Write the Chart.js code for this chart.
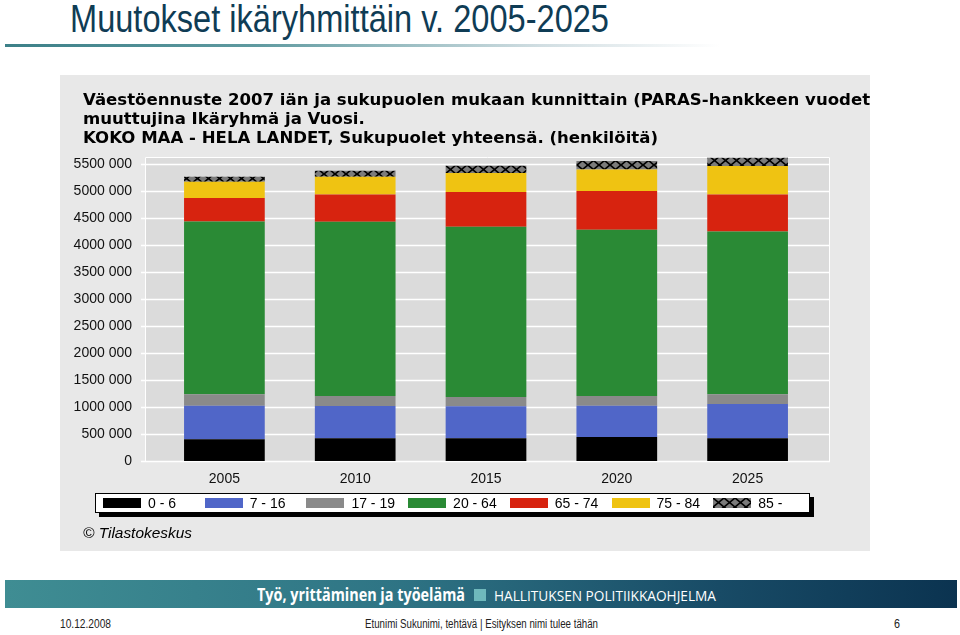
<!DOCTYPE html>
<html><head><meta charset="utf-8">
<script src="https://cdn.jsdelivr.net/npm/chart.js@4.4.1/dist/chart.umd.min.js"></script>
<style>
html,body{margin:0;padding:0;background:#fff;width:960px;height:635px;overflow:hidden;font-family:"Liberation Sans",Arial,sans-serif;}
.abs{position:absolute;white-space:nowrap;}
.fit{display:inline-block;transform-origin:0 50%;}
#title{left:70px;top:-2px;font-size:39px;line-height:42px;color:#0f3c55;font-family:"Liberation Sans Narrow","Liberation Sans",sans-serif;}
#uline{left:5px;top:44px;width:715px;height:3px;background:linear-gradient(to right,#3c8088 0%,#5f9aa0 35%,rgba(190,208,214,0.7) 75%,rgba(255,255,255,0) 100%);}
#panel{left:60px;top:75px;width:810px;height:476px;background:#e8e8e8;overflow:hidden;}
#cv{position:absolute;left:0;top:0;}
.head{font-family:"DejaVu Sans",Verdana,sans-serif;font-weight:bold;font-size:15px;line-height:18px;color:#000;left:23px;}
#legend{left:35px;top:418px;width:713px;height:18px;border:1px solid #000;background:#fff;box-shadow:4px 4px 0 #000;}
.sw{position:absolute;top:4px;width:38px;height:10px;}
.lt{position:absolute;top:1px;font-size:14px;line-height:16px;color:#000;}
#copy{left:23px;top:450px;font-size:14px;line-height:16px;font-style:italic;color:#000;}
#banner{left:5px;top:580px;width:952px;height:28px;background:linear-gradient(to right,#3f8d93 0%,#2f7585 40%,#184b66 75%,#0b3350 100%);}
#b1{left:257px;top:584px;font-size:18px;line-height:20px;font-weight:bold;color:#fff;font-family:"Open Sans","Liberation Sans",sans-serif;}
#bsq{left:474px;top:589px;width:12px;height:12px;background:#6fb9bc;}
#b2{left:494px;top:586px;font-size:15px;line-height:18px;color:#fff;font-family:"Open Sans","Liberation Sans",sans-serif;}
.foot{top:616px;font-size:12px;line-height:16px;color:#222;}
</style></head>
<body>
<div class="abs" id="title"><span class="fit" data-w="539">Muutokset ikäryhmittäin v. 2005-2025</span></div>
<div class="abs" id="uline"></div>
<div class="abs" id="panel">
  <canvas id="cv" width="810" height="476"></canvas>
  <div class="abs head" style="top:16px"><span class="fit hd">Väestöennuste 2007 iän ja sukupuolen mukaan kunnittain (PARAS-hankkeen vuodet 2005-2025)</span></div>
  <div class="abs head" style="top:35px"><span class="fit hd">muuttujina Ikäryhmä ja Vuosi.</span></div>
  <div class="abs head" style="top:54px"><span class="fit hd" id="h3">KOKO MAA - HELA LANDET, Sukupuolet yhteensä. (henkilöitä)</span></div>
  <div class="abs" id="legend"></div>
  <div class="abs" id="copy"><span class="fit" data-w="109">© Tilastokeskus</span></div>
</div>
<div class="abs" id="banner"></div>
<div class="abs" id="b1"><span class="fit" data-w="208">Työ, yrittäminen ja työelämä</span></div>
<div class="abs" id="bsq"></div>
<div class="abs" id="b2"><span class="fit" data-w="222">HALLITUKSEN POLITIIKKAOHJELMA</span></div>
<div class="abs foot" style="left:60px"><span class="fit" data-w="51">10.12.2008</span></div>
<div class="abs foot" style="left:365px"><span class="fit" data-w="233">Etunimi Sukunimi, tehtävä | Esityksen nimi tulee tähän</span></div>
<div class="abs foot" style="left:894px"><span class="fit" data-w="6">6</span></div>
<script>
// ---- data ----
const years = ['2005', '2010', '2015', '2020', '2025'];
const ageLabels = ['0 - 6', '7 - 16', '17 - 19', '20 - 64', '65 - 74', '75 - 84', '85 -'];
const age0_6   = [402000, 420000, 420000, 444000, 420000];
const age7_16  = [622000, 599000, 593000, 580000, 636000];
const age17_19 = [211000, 185000, 172000, 180000, 179000];
const age20_64 = [3196000, 3222000, 3148000, 3074000, 3011000];
const age65_74 = [434000, 505000, 643000, 716000, 685000];
const age75_84 = [302000, 328000, 352000, 400000, 526000];
const age85    = [92000, 111000, 135000, 156000, 154000];
const yTickValues = [0, 500000, 1000000, 1500000, 2000000, 2500000, 3000000, 3500000, 4000000, 4500000, 5000000, 5500000];
const yMax = 5625000;

// ---- styles ----
function makeHatch() {
  const c = document.createElement('canvas'); c.width = 11; c.height = 9;
  const g = c.getContext('2d');
  g.fillStyle = '#7b7b7b'; g.fillRect(0, 0, 11, 9);
  g.strokeStyle = '#000'; g.lineWidth = 1.7;
  g.beginPath(); g.moveTo(0, 0); g.lineTo(11, 9); g.moveTo(11, 0); g.lineTo(0, 9); g.stroke();
  return c;
}
const hatchCanvas = makeHatch();
const ctx = document.getElementById('cv').getContext('2d');
const hatch = ctx.createPattern(hatchCanvas, 'repeat');
const colors = ['#000000', '#5066c8', '#8a8a8a', '#2a8a35', '#d7230f', '#efc312', hatch];
const series = [age0_6, age7_16, age17_19, age20_64, age65_74, age75_84, age85];

// ---- legend (HTML) ----
const leg = document.getElementById('legend');
ageLabels.forEach((lab, i) => {
  const x = 7 + i * 101.7;
  const sw = document.createElement('div');
  sw.className = 'sw'; sw.style.left = x + 'px';
  if (i === 6) sw.style.background = 'url(' + hatchCanvas.toDataURL() + ')';
  else sw.style.background = colors[i];
  leg.appendChild(sw);
  const t = document.createElement('div');
  t.className = 'lt'; t.style.left = (x + 45) + 'px'; t.textContent = lab;
  leg.appendChild(t);
});

// ---- plot background plugin ----
const plotBg = {
  id: 'plotBg',
  beforeDatasetsDraw(chart) {
    const {ctx, chartArea: a, scales: {y}} = chart;
    const L = a.left - 14, R = a.right + 17;
    ctx.save();
    ctx.fillStyle = '#dbdbdb';
    ctx.fillRect(L, a.top, R - L, a.bottom - a.top + 1);
    ctx.strokeStyle = '#ffffff'; ctx.lineWidth = 1.3;
    y.ticks.forEach(t => {
      const py = Math.round(y.getPixelForValue(t.value)) + 0.5;
      ctx.beginPath(); ctx.moveTo(L - 4, py); ctx.lineTo(R, py); ctx.stroke();
    });
    ctx.lineWidth = 1;
    ctx.beginPath();
    ctx.moveTo(L + 0.5, a.bottom + 1); ctx.lineTo(L + 0.5, Math.round(a.top) + 0.5);
    ctx.lineTo(R - 0.5, Math.round(a.top) + 0.5); ctx.lineTo(R - 0.5, a.bottom + 1);
    ctx.stroke();
    ctx.restore();
  }
};

new Chart(ctx, {
  type: 'bar',
  data: {
    labels: years,
    datasets: series.map((d, i) => ({
      label: ageLabels[i], data: d, backgroundColor: colors[i], borderWidth: 0,
      barPercentage: 0.617, categoryPercentage: 1
    }))
  },
  options: {
    responsive: false, animation: false, devicePixelRatio: 1,
    layout: {padding: {top: 82, right: 57, left: 0, bottom: 0}},
    plugins: {legend: {display: false}, tooltip: {enabled: false}},
    scales: {
      x: {
        stacked: true, grid: {display: false}, border: {display: false},
        ticks: {color: '#111', font: {family: 'Liberation Sans', size: 14}, padding: 2},
        afterFit(s) { s.height = 90; }
      },
      y: {
        stacked: true, min: 0, max: yMax,
        grid: {display: false}, border: {display: false},
        afterBuildTicks(s) { s.ticks = yTickValues.map(v => ({value: v})); },
        ticks: {
          color: '#111', font: {family: 'Liberation Sans', size: 14}, padding: 19,
          callback: v => v === 0 ? '0' : (v / 1000) + ' 000'
        },
        afterFit(s) { s.width = 99; }
      }
    }
  },
  plugins: [plotBg]
});

// ---- fit text widths ----
document.querySelectorAll('.fit[data-w]').forEach(el => {
  const n = el.getBoundingClientRect().width;
  el.style.transform = 'scaleX(' + (parseFloat(el.dataset.w) / n) + ')';
});
const h3 = document.getElementById('h3');
const k = 575 / h3.getBoundingClientRect().width;
document.querySelectorAll('.hd').forEach(el => { el.style.transform = 'scaleX(' + k + ')'; });
</script>
</body></html>
